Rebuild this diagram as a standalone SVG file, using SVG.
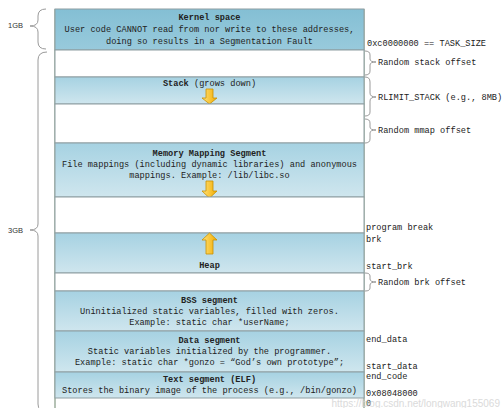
<svg xmlns="http://www.w3.org/2000/svg" width="503" height="408" viewBox="0 0 503 408">
<style>
.t{font-family:"Liberation Mono","DejaVu Sans Mono",monospace;font-size:8.65px;fill:#222;text-anchor:middle}
.b{font-weight:bold}
.r{font-family:"Liberation Mono","DejaVu Sans Mono",monospace;font-size:8.65px;fill:#222}
.s{font-family:"Liberation Sans",Arial,sans-serif;font-size:7.5px;fill:#333}
.seg{fill:url(#g);stroke:#8e9ea2;stroke-width:1}
.gap{fill:#fff;stroke:#8e9ea2;stroke-width:1}
.br{fill:none;stroke:#9a9a9a;stroke-width:1}
.arr{fill:url(#ay);stroke:#c98f00;stroke-width:0.8}
</style>
<defs>
<linearGradient id="g" x1="0" y1="0" x2="0" y2="1">
<stop offset="0" stop-color="#a6d2e2"/>
<stop offset="1" stop-color="#cfe6ee"/>
</linearGradient>
<linearGradient id="gk" x1="0" y1="0" x2="0" y2="1">
<stop offset="0" stop-color="#84bfd4"/>
<stop offset="1" stop-color="#98cadc"/>
</linearGradient>
<linearGradient id="ay" x1="0" y1="0" x2="1" y2="0">
<stop offset="0" stop-color="#ffe27a"/>
<stop offset="1" stop-color="#f2ac00"/>
</linearGradient>
</defs>
<rect width="503" height="408" fill="#fff"/>
<line x1="55" y1="9" x2="55" y2="408" stroke="#a3b3a3" stroke-width="1.6"/>
<line x1="364" y1="9" x2="364" y2="408" stroke="#a3b3a3" stroke-width="1.6"/>

<g id="kernel">
<rect x="55" y="9" width="309" height="41" fill="url(#gk)" stroke="#8e9ea2"/>
<text class="t b" x="209.5" y="20">Kernel space</text>
<text class="t" x="209.5" y="32">User code CANNOT read from nor write to these addresses,</text>
<text class="t" x="209.5" y="44">doing so results in a Segmentation Fault</text>
</g>
<g id="gap-stack"><rect class="gap" x="55" y="50" width="309" height="27"/></g>
<g id="stack">
<rect class="seg" x="55" y="77" width="309" height="27"/>
<text class="t" x="209.5" y="86"><tspan class="b">Stack</tspan> (grows down)</text>
<path class="arr" d="M206,89 H213 V98 H217 L209.5,104 L202,98 H206 Z"/>
</g>
<g id="gap-mmap"><rect class="gap" x="55" y="104" width="309" height="39"/></g>
<g id="mmap">
<rect class="seg" x="55" y="143" width="309" height="54"/>
<text class="t b" x="209.5" y="156">Memory Mapping Segment</text>
<text class="t" x="209.5" y="167">File mappings (including dynamic libraries) and anonymous</text>
<text class="t" x="209.5" y="178">mappings. Example: /lib/libc.so</text>
<path class="arr" d="M206,181 H213 V191 H217 L209.5,198 L202,191 H206 Z"/>
</g>
<g id="gap-heap"><rect class="gap" x="55" y="197" width="309" height="36"/></g>
<g id="heap">
<rect class="seg" x="55" y="233" width="309" height="40"/>
<path class="arr" d="M209.5,233 L217,240 H213 V254 H206 V240 H202 Z"/>
<text class="t b" x="209.5" y="268">Heap</text>
</g>
<g id="gap-brk"><rect class="gap" x="55" y="273" width="309" height="18"/></g>
<g id="bss">
<rect class="seg" x="55" y="291" width="309" height="40"/>
<text class="t b" x="209.5" y="303">BSS segment</text>
<text class="t" x="209.5" y="314">Uninitialized static variables, filled with zeros.</text>
<text class="t" x="209.5" y="325">Example: static char *userName;</text>
</g>
<g id="data">
<rect class="seg" x="55" y="331" width="309" height="41"/>
<text class="t b" x="209.5" y="343">Data segment</text>
<text class="t" x="209.5" y="354">Static variables initialized by the programmer.</text>
<text class="t" x="209.5" y="365">Example: static char *gonzo = “God’s own prototype”;</text>
</g>
<g id="text">
<rect class="seg" x="55" y="372" width="309" height="26"/>
<text class="t b" x="209.5" y="382">Text segment (ELF)</text>
<text class="t" x="209.5" y="393">Stores the binary image of the process (e.g., /bin/gonzo)</text>
</g>

<g id="connectors">
<path class="br" d="M46,9 Q38,9 38,16 V20 Q38,26 30,26 Q38,26 38,32 V42 Q38,49 46,49"/>
<path class="br" d="M47,52 Q38,52 38,60 V224 Q38,230 30,230 Q38,230 38,236 V404 Q38,412 47,412"/>
<path class="br" d="M365,51 Q370,51 370,55 V59 Q370,62 376,62 Q370,62 370,65 V71 Q370,75 365,75"/>
<path class="br" d="M365,77 Q370,77 370,82 V93 Q370,97 376,97 Q370,97 370,101 V112 Q370,116 365,116"/>
<path class="br" d="M365,119 Q370,119 370,123 V127 Q370,130 376,130 Q370,130 370,133 V139 Q370,143 365,143"/>
<path class="br" d="M365,273 Q370,273 370,276 V279 Q370,282 376,282 Q370,282 370,285 V288 Q370,291 365,291"/>
</g>

<g id="labels">
<text class="s" x="8" y="28">1GB</text>
<text class="s" x="8" y="233">3GB</text>
<text class="r" x="367" y="46">0xc0000000 == TASK_SIZE</text>
<text class="r" x="378" y="65">Random stack offset</text>
<text class="r" x="378" y="100">RLIMIT_STACK (e.g., 8MB)</text>
<text class="r" x="378" y="133">Random mmap offset</text>
<text class="r" x="366" y="230">program break</text>
<text class="r" x="366" y="242">brk</text>
<text class="r" x="366" y="269">start_brk</text>
<text class="r" x="378" y="285">Random brk offset</text>
<text class="r" x="366" y="342">end_data</text>
<text class="r" x="366" y="369">start_data</text>
<text class="r" x="366" y="379">end_code</text>
<text class="r" x="366" y="396">0x08048000</text>
<text class="r" x="366" y="406">0</text>
<text x="500" y="407" text-anchor="end" font-family="Liberation Sans,Arial,sans-serif" font-size="10px" fill="#d2d2d2" opacity="0.8">https://blog.csdn.net/longwang155069</text>
</g>
</svg>
